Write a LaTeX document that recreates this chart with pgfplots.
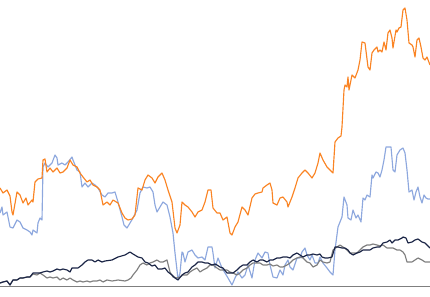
\documentclass[border=0pt]{standalone}
\usepackage{pgfplots}
\pgfplotsset{compat=1.18}
\definecolor{corange}{HTML}{FA8424}
\definecolor{cblue}{HTML}{8EA8DE}
\definecolor{cnavy}{HTML}{1B2546}
\definecolor{cgray}{HTML}{7F7F7F}
\begin{document}
\begin{tikzpicture}
\useasboundingbox (0,0) rectangle (430bp,297bp);
\begin{axis}[
  at={(0,0)}, anchor=south west,
  scale only axis, width=430bp, height=297bp,
  xmin=0, xmax=430, ymin=0, ymax=297, y dir=reverse,
  hide axis, clip=false,
  every axis plot/.append style={line width=1.15pt, mark=none, line join=round},
]
\addplot[cgray, line width=0.8pt] coordinates {(0,286) (430,286)};
\addplot[cblue] coordinates {
(0,213) (2,207) (3,215) (7,212) (10,227) (13,228) (17,220) (20,222) (23,228) (27,230) (30,232) (32,235) (33,230) (37,233) (38,223) (40,218) (42,220) (43,167) (45,163) (48,167) (52,163) (55,155) (57,158) (58,165) (62,163) (65,165) (68,162) (72,157) (73,160) (77,170) (80,172) (82,187) (85,183) (88,187) (92,183) (95,185) (98,188) (102,195) (105,197) (108,193) (112,193) (115,192) (118,202) (122,217) (124,225) (127,228) (130,223) (133,218) (137,210) (140,193) (143,187) (147,188) (150,187) (153,192) (155,205) (157,212) (160,207) (163,202) (167,205) (170,217) (173,233) (175,253) (177,270) (178,280) (180,273) (182,252) (183,253) (185,262) (188,252) (192,250) (195,255) (198,258) (202,257) (205,260) (208,247) (212,247) (213,253) (215,268) (218,258) (222,268) (225,273) (228,278) (232,285) (235,278) (238,272) (242,278) (245,275) (248,265) (252,278) (255,260) (258,253) (262,258) (265,252) (268,253) (270,265) (273,277) (277,278) (280,270) (283,275) (285,265) (288,260) (290,267) (293,270) (297,258) (300,258) (302,252) (305,248) (307,255) (310,260) (312,255) (315,263) (318,263) (320,257) (323,263) (327,268) (330,272) (333,275) (335,250) (338,227) (342,217) (344,197) (347,205) (348,218) (351,220) (353,210) (356,218) (358,215) (361,222) (363,198) (365,200) (367,195) (370,197) (372,175) (373,178) (376,172) (378,173) (380,177) (382,170) (384,160) (386,147) (388,147) (391,147) (393,170) (395,172) (397,155) (400,150) (403,148) (405,153) (407,170) (409,192) (412,190) (414,200) (416,192) (418,187) (420,197) (422,203) (424,195) (426,198) (428,199) (430,199)
};
\addplot[corange] coordinates {
(0,188) (3,193) (7,190) (10,196) (12,212) (13,215) (17,192) (20,195) (23,203) (26,198) (28,205) (32,200) (33,202) (35,182) (38,179) (42,178) (43,160) (45,159) (47,172) (50,168) (53,172) (57,168) (60,173) (63,172) (67,168) (70,160) (73,165) (77,167) (80,173) (83,177) (87,182) (90,180) (93,185) (97,187) (100,190) (103,205) (107,202) (110,205) (113,200) (118,203) (122,213) (125,218) (128,220) (132,219) (135,215) (138,188) (142,190) (145,180) (148,175) (152,178) (155,183) (158,177) (162,173) (165,180) (168,190) (172,202) (175,228) (177,233) (180,225) (182,202) (185,205) (188,207) (192,212) (195,217) (198,212) (202,210) (205,202) (208,190) (211,190) (213,208) (217,213) (220,213) (223,220) (227,217) (230,233) (232,235) (235,227) (238,222) (242,207) (245,210) (248,215) (252,198) (255,194) (258,193) (262,192) (263,188) (267,185) (270,183) (272,190) (273,203) (277,205) (280,198) (283,197) (287,202) (288,207) (292,197) (295,188) (298,178) (302,173) (305,170) (308,173) (312,178) (315,173) (318,163) (320,153) (323,160) (327,167) (330,170) (333,173) (335,142) (338,138) (341,136) (342,127) (344,90) (345,85) (347,87) (348,77) (349,90) (352,75) (355,78) (358,70) (360,60) (362,42) (365,43) (368,67) (370,70) (372,53) (374,50) (377,47) (378,52) (380,50) (382,52) (384,42) (386,50) (388,33) (390,30) (392,38) (393,48) (396,30) (397,32) (399,28) (401,27) (403,10) (405,8) (407,20) (409,43) (412,45) (413,47) (415,57) (417,40) (419,38) (421,47) (423,58) (425,60) (427,57) (430,65)
};
\addplot[cgray] coordinates {
(0,283) (3,282) (7,281) (10,285) (13,280) (17,280) (20,278) (23,278) (27,277) (30,277) (33,274) (37,275) (40,273) (43,275) (47,278) (50,277) (53,278) (57,277) (60,280) (63,278) (67,280) (70,278) (73,280) (77,282) (80,281) (83,282) (87,281) (90,282) (93,281) (97,281) (100,280) (103,282) (107,280) (112,281) (118,280) (125,281) (128,280) (131,278) (133,275) (137,270) (140,265) (143,263) (147,265) (150,263) (153,262) (157,260) (160,262) (163,262) (167,260) (170,272) (173,277) (177,278) (180,277) (183,275) (187,275) (190,272) (193,270) (197,268) (200,272) (203,270) (207,268) (210,265) (213,265) (217,268) (220,270) (223,270) (227,270) (230,272) (233,273) (237,275) (240,273) (243,270) (247,268) (250,265) (253,263) (257,263) (260,263) (263,265) (267,265) (270,264) (273,266) (277,265) (280,267) (283,267) (287,265) (290,263) (293,260) (297,258) (300,257) (303,258) (307,262) (310,263) (313,267) (317,265) (320,260) (323,262) (327,263) (330,262) (333,250) (337,247) (340,245) (343,247) (347,250) (350,253) (353,253) (357,253) (360,250) (363,247) (367,245) (370,245) (373,244) (377,245) (380,246) (383,245) (387,248) (390,248) (393,248) (397,250) (400,250) (403,252) (405,255) (407,262) (412,262) (415,260) (418,258) (422,260) (425,262) (428,262) (430,262)
};
\addplot[cnavy] coordinates {
(0,283) (3,282) (7,281) (10,285) (13,280) (17,280) (20,278) (23,278) (27,277) (30,277) (33,273) (37,273) (40,273) (43,272) (47,271) (50,272) (53,271) (57,269) (60,270) (63,269) (67,270) (70,272) (72,268) (75,268) (78,268) (82,265) (85,262) (88,260) (92,260) (95,262) (98,260) (102,262) (105,261) (112,260) (118,257) (125,255) (130,252) (133,254) (138,257) (142,258) (145,262) (148,263) (152,266) (155,265) (158,269) (162,269) (165,268) (168,272) (172,275) (175,278) (178,280) (182,275) (185,273) (188,272) (192,267) (195,265) (198,262) (202,262) (205,263) (208,263) (212,265) (215,264) (217,265) (220,267) (223,268) (227,273) (230,273) (233,273) (237,270) (240,267) (243,265) (247,265) (250,262) (253,260) (257,262) (260,260) (263,260) (267,262) (270,260) (273,260) (277,258) (280,258) (283,257) (287,257) (290,258) (293,255) (297,253) (300,255) (303,257) (307,255) (310,255) (313,254) (317,255) (320,254) (322,257) (325,258) (328,258) (332,257) (335,247) (338,247) (342,248) (345,248) (348,250) (350,253) (353,255) (357,253) (360,252) (363,250) (367,250) (370,250) (373,248) (377,247) (380,247) (383,243) (387,242) (390,240) (392,243) (395,240) (398,240) (402,238) (403,237) (406,238) (408,243) (412,242) (415,240) (418,239) (422,242) (425,243) (427,245) (430,248)
};
\end{axis}
\end{tikzpicture}
\end{document}
